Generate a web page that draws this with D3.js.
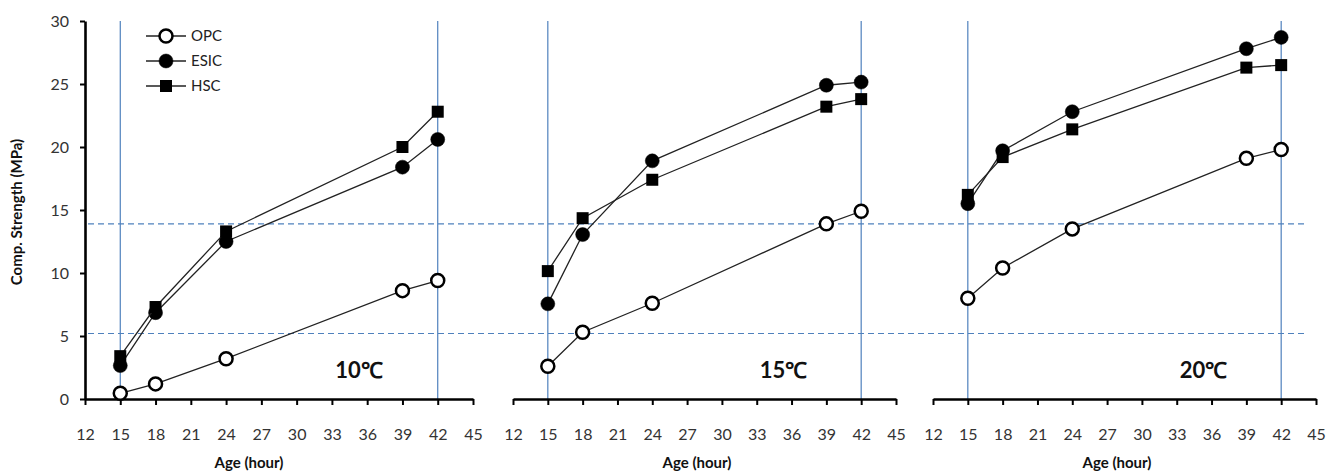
<!DOCTYPE html>
<html>
<head>
<meta charset="utf-8">
<script src="https://cdn.jsdelivr.net/npm/d3@7"></script>
<style>
  html, body { margin: 0; padding: 0; background: #fff; }
  svg { display: block; font-family: Lato, "Open Sans", sans-serif; }
</style>
</head>
<body>
<svg id="chart" width="1339" height="472"></svg>
<script>
// ---- data ----
const hours = [15, 18, 24, 39, 42];
const temperatures = ["10℃", "15℃", "20℃"];
const seriesNames = ["OPC", "ESIC", "HSC"];
const opc10 = [0.45, 1.2, 3.2, 8.6, 9.4];
const esic10 = [2.65, 6.85, 12.5, 18.4, 20.6];
const hsc10 = [3.4, 7.3, 13.3, 20.0, 22.8];
const opc15 = [2.6, 5.3, 7.6, 13.9, 14.9];
const esic15 = [7.55, 13.05, 18.9, 24.9, 25.15];
const hsc15 = [10.15, 14.35, 17.4, 23.2, 23.8];
const opc20 = [8.0, 10.4, 13.5, 19.1, 19.8];
const esic20 = [15.5, 19.7, 22.8, 27.8, 28.7];
const hsc20 = [16.2, 19.2, 21.4, 26.3, 26.5];
const xTicks = [12, 15, 18, 21, 24, 27, 30, 33, 36, 39, 42, 45];
const yTicks = [0, 5, 10, 15, 20, 25, 30];
const refStrengths = [5.2, 13.9];
const refHours = [15, 42];

const panelData = [
  [opc10, esic10, hsc10],
  [opc15, esic15, hsc15],
  [opc20, esic20, hsc20]
];

// ---- layout ----
const svg = d3.select("#chart");
const panelRanges = [[85, 473], [513, 896], [933, 1316]];
const titleX = [249, 697, 1117];
const yTop = 21, yBottom = 399;
const blue = "#4f81bd";

const y = d3.scaleLinear().domain([0, 30]).range([yBottom, yTop]);

// dashed reference lines across all panels
svg.selectAll("line.ref")
  .data(refStrengths)
  .join("line")
  .attr("class", "ref")
  .attr("x1", 88).attr("x2", 1307)
  .attr("y1", d => y(d)).attr("y2", d => y(d))
  .attr("stroke", blue).attr("stroke-width", 1.1)
  .attr("stroke-dasharray", "6,4");

const markerShape = (sel, name, cx, cy) => {
  if (name === "HSC") {
    sel.append("rect")
      .attr("x", cx - 6).attr("y", cy - 6)
      .attr("width", 12).attr("height", 12)
      .attr("fill", "#000");
  } else {
    sel.append("circle")
      .attr("cx", cx).attr("cy", cy)
      .attr("r", name === "OPC" ? 6.5 : 7)
      .attr("fill", name === "OPC" ? "#fff" : "#000")
      .attr("stroke", "#000")
      .attr("stroke-width", name === "OPC" ? 2.5 : 0.5);
  }
};

panelData.forEach((series, p) => {
  const x = d3.scaleLinear().domain([12, 45]).range(panelRanges[p]);
  const g = svg.append("g");

  // vertical reference lines
  g.selectAll("line.vref")
    .data(refHours)
    .join("line")
    .attr("x1", d => x(d)).attr("x2", d => x(d))
    .attr("y1", y(30)).attr("y2", yBottom)
    .attr("stroke", blue).attr("stroke-width", 1.2);

  // x axis
  const xAxis = d3.axisBottom(x).tickValues(xTicks).tickSize(6).tickSizeOuter(0).tickPadding(24);
  const xg = g.append("g").attr("transform", `translate(0,${yBottom})`).call(xAxis);
  xg.select(".domain").attr("stroke", "#000").attr("stroke-width", 2.6);
  xg.selectAll(".tick line").attr("stroke", "#000").attr("stroke-width", 2);
  xg.selectAll(".tick text").attr("font-size", 16).attr("fill", "#333")
    .attr("font-family", "Lato, sans-serif");

  g.append("text")
    .attr("x", titleX[p]).attr("y", 468)
    .attr("text-anchor", "middle")
    .attr("font-size", 15).attr("font-weight", "bold").attr("fill", "#111")
    .text("Age (hour)");

  if (p === 0) {
    const yAxis = d3.axisLeft(y).tickValues(yTicks).tickSize(5).tickSizeOuter(0).tickPadding(11);
    const yg = g.append("g").attr("transform", `translate(${panelRanges[0][0]},0)`).call(yAxis);
    yg.select(".domain").attr("stroke", "#000").attr("stroke-width", 2.6);
    yg.selectAll(".tick line").attr("stroke", "#000").attr("stroke-width", 2);
    yg.selectAll(".tick text").attr("font-size", 16).attr("fill", "#333")
      .attr("font-family", "Lato, sans-serif");
  }

  const line = d3.line().x((d, i) => x(hours[i])).y(d => y(d));
  series.forEach((vals, s) => {
    g.append("path")
      .attr("d", line(vals))
      .attr("fill", "none").attr("stroke", "#222").attr("stroke-width", 1.3);
    const mg = g.append("g");
    vals.forEach((v, i) => markerShape(mg, seriesNames[s], x(hours[i]), y(v)));
  });

  // temperature label
  g.append("text")
    .attr("x", x(35.3)).attr("y", y(1.65))
    .attr("text-anchor", "middle")
    .attr("font-size", 22).attr("font-weight", "bold").attr("fill", "#111")
    .text(temperatures[p]);
});

// y axis title
svg.append("text")
  .attr("transform", "translate(22,212) rotate(-90)")
  .attr("text-anchor", "middle")
  .attr("font-size", 15).attr("font-weight", "bold").attr("fill", "#111")
  .text("Comp. Strength (MPa)");

// legend
const legendRows = [36, 61, 86];
const lg = svg.append("g");
seriesNames.forEach((name, i) => {
  const cy = legendRows[i];
  lg.append("line").attr("x1", 146).attr("x2", 186).attr("y1", cy).attr("y2", cy)
    .attr("stroke", "#222").attr("stroke-width", 1.3);
  markerShape(lg, name, 166, cy);
  lg.append("text").attr("x", 191).attr("y", cy).attr("dy", "0.35em")
    .attr("font-size", 15).attr("fill", "#222").text(name);
});
</script>
</body>
</html>
